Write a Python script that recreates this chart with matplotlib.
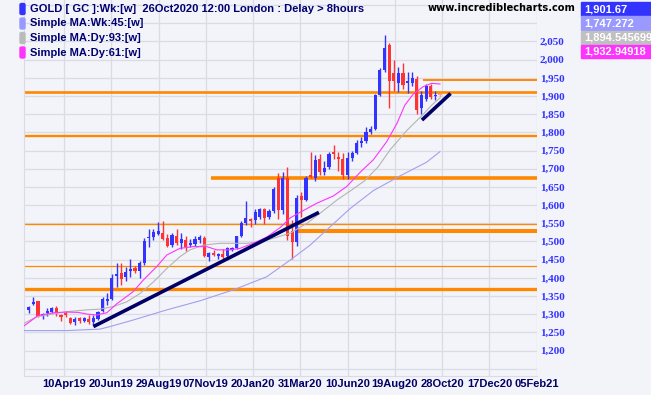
import numpy as np
import matplotlib
matplotlib.use('Agg')
import matplotlib.pyplot as plt
from matplotlib.patches import Rectangle, FancyBboxPatch

# weekly GOLD candles, Feb 2019 .. Oct 2020
opens = [1312, 1328, 1336, 1296, 1303, 1307, 1318, 1297, 1302, 1290,
         1279, 1290, 1282, 1287, 1278, 1286, 1310, 1337, 1341, 1405,
         1413, 1401, 1420, 1426, 1420, 1440, 1509, 1513, 1520, 1522,
         1509, 1490, 1516, 1497, 1504, 1490, 1493, 1505, 1510, 1456,
         1468, 1459, 1465, 1460, 1477, 1481, 1515, 1550, 1561, 1560,
         1568, 1588, 1568, 1584, 1675, 1587, 1674, 1530, 1499, 1625,
         1614, 1684, 1674, 1726, 1692, 1704, 1747, 1733, 1727, 1683,
         1729, 1743, 1770, 1775, 1800, 1809, 1903, 1972, 2040, 1962,
         1935, 1962, 1935, 1935, 1946, 1866, 1892, 1928, 1899, 1903]
highs = [1323, 1347, 1337, 1303, 1316, 1320, 1322, 1300, 1310, 1293,
         1291, 1291, 1291, 1297, 1297, 1310, 1347, 1359, 1410, 1440,
         1440, 1430, 1451, 1433, 1446, 1509, 1534, 1534, 1553, 1556,
         1520, 1523, 1535, 1523, 1516, 1506, 1516, 1518, 1515, 1472,
         1476, 1468, 1478, 1484, 1486, 1515, 1555, 1610, 1565, 1590,
         1592, 1592, 1588, 1650, 1689, 1692, 1704, 1560, 1628, 1637,
         1680, 1745, 1738, 1741, 1720, 1747, 1765, 1745, 1744, 1745,
         1750, 1779, 1788, 1814, 1818, 1905, 1978, 2068, 2045, 2000,
         1980, 1990, 1965, 1965, 1955, 1915, 1932, 1932, 1915, 1905]
lows = [1304, 1324, 1292, 1287, 1296, 1302, 1294, 1281, 1293, 1273,
        1270, 1277, 1279, 1274, 1270, 1283, 1305, 1325, 1340, 1376,
        1380, 1390, 1401, 1412, 1400, 1435, 1484, 1504, 1518, 1503,
        1486, 1486, 1490, 1480, 1475, 1484, 1488, 1496, 1456, 1446,
        1460, 1452, 1450, 1457, 1474, 1479, 1512, 1546, 1539, 1548,
        1562, 1548, 1562, 1578, 1563, 1576, 1504, 1451, 1488, 1568,
        1610, 1675, 1665, 1683, 1683, 1700, 1726, 1695, 1671, 1671,
        1720, 1740, 1760, 1770, 1795, 1806, 1900, 1965, 1866, 1915,
        1910, 1918, 1908, 1928, 1850, 1851, 1885, 1892, 1890, 1898]
closes = [1321, 1334, 1296, 1301, 1309, 1316, 1301, 1293, 1297, 1277,
          1288, 1282, 1289, 1278, 1289, 1307, 1341, 1341, 1399, 1411,
          1397, 1417, 1424, 1419, 1440, 1500, 1513, 1527, 1530, 1506,
          1488, 1518, 1497, 1506, 1486, 1495, 1506, 1513, 1460, 1468,
          1463, 1465, 1458, 1481, 1483, 1515, 1550, 1564, 1555, 1580,
          1588, 1565, 1584, 1643, 1587, 1674, 1516, 1499, 1620, 1615,
          1674, 1678, 1724, 1692, 1701, 1741, 1741, 1726, 1683, 1729,
          1743, 1770, 1777, 1800, 1808, 1903, 1972, 2031, 1940, 1940,
          1962, 1930, 1940, 1950, 1862, 1903, 1928, 1898, 1903, 1901.67]

# moving averages (bar index, value)
ma61_x = [-1, 2, 5.3, 8.2, 10.7, 12.8, 14.7, 16.9, 19, 22.6, 24.8, 27.7, 29.9,
          32.7, 35.6, 38.5, 40.7, 43.6, 45.7, 48.6, 51.5, 54.4, 56.6, 58.7,
          62.3, 65.9, 68.8, 71.7, 74.6, 77.5, 79.7, 81.4, 83.2, 85.4, 87.2, 89]
ma61_y = [1268, 1296, 1304, 1306, 1305, 1300, 1298, 1304, 1328, 1362, 1394, 1431, 1463,
          1481, 1486, 1486, 1477, 1477, 1481, 1495, 1512, 1538, 1565, 1580,
          1605, 1625, 1651, 1690, 1725, 1775, 1825, 1875, 1905, 1926, 1935, 1933]
ma93_x = [-1, 1.7, 8.2, 12.6, 15.4, 18.3, 21.2, 24.1, 27, 29.9, 32.7, 34.9, 37.8,
          41.4, 44.3, 47.2, 50.1, 53, 56.6, 60.2, 63.8, 66.8, 69.7, 72.7, 75.6,
          78.2, 81.8, 85.4, 87.2, 89]
ma93_y = [1275, 1293, 1307, 1312, 1314, 1321, 1334, 1357, 1389, 1426, 1458, 1477, 1490,
          1495, 1495, 1495, 1499, 1509, 1523, 1550, 1585, 1615, 1640, 1667, 1705,
          1752, 1805, 1850, 1875, 1894.5]
ma45_x = [-1, 8.2, 15.4, 17.6, 22.6, 29.9, 37.1, 44.3, 51.5, 56.6, 60.9, 65.2,
          69.5, 74.6, 80.3, 86.1, 89]
ma45_y = [1255, 1255, 1259, 1266, 1284, 1312, 1337, 1367, 1403, 1449, 1490, 1540,
          1590, 1640, 1680, 1718, 1747]

# support / resistance lines: price, start bar (None = left edge), width
hl_price = [1944, 1911, 1790, 1674, 1548, 1530, 1433, 1370]
hl_start = [85.4, None, None, 39.5, None, 58.1, None, None]
hl_width = [1.4, 1.9, 1.7, 2.6, 0.95, 2.9, 0.9, 2.4]

# trend lines
tl1_x, tl1_y = [14.0, 62.8], [1266, 1580]
tl2_x, tl2_y = [85.1, 91.3], [1834, 1907]

date_labels = ['10Apr19', '20Jun19', '29Aug19', '07Nov19', '20Jan20', '31Mar20',
               '10Jun20', '19Aug20', '28Oct20', '17Dec20', '05Feb21']

legend_labels = ['GOLD [ GC ]:Wk:[w]  26Oct2020 12:00 London : Delay > 8hours',
                 'Simple MA:Wk:45:[w]', 'Simple MA:Dy:93:[w]', 'Simple MA:Dy:61:[w]']
last_values = ['1,901.67', '1,747.272', '1,894.545699', '1,932.94918']

W, H = 651, 395
bg = '#f3f4f9'
grid_c = '#dadbe5'
blue = '#3333ff'
red = '#ff3333'
orange = '#ff8800'
navy = '#000066'
legend_cols = ['#3333ff', '#9999ff', '#bbbbbb', '#ff33ff']

fig = plt.figure(figsize=(W / 100, H / 100), dpi=100)
fig.patch.set_facecolor(bg)
ax = fig.add_axes([24 / W, 1 - 376 / H, 513 / W, 376 / H])
ax.set_facecolor(bg)
ax.set_xlim(-1.02, 110.0)
ax.set_ylim(1130.1, 2164.1)

# grid
yt = list(range(1150, 2151, 50))
ax.set_yticks(yt)
ax.set_yticklabels(['{:,}'.format(v) if 1200 <= v <= 2050 else '' for v in yt])
tick_pos = [7.64 + 10.23 * j for j in range(len(date_labels))]
ax.set_xticks(tick_pos)
ax.set_xticklabels(date_labels)
ax.grid(True, color=grid_c, lw=0.9)
ax.set_axisbelow(True)
for s in ['top', 'right']:
    ax.spines[s].set_visible(False)
for s in ['left', 'bottom']:
    ax.spines[s].set_color(grid_c)

# orange lines
xl, xr = ax.get_xlim()
for p, st, w in zip(hl_price, hl_start, hl_width):
    ax.hlines(p, xl if st is None else st, xr, color=orange, lw=w, zorder=2)

# candles
n = len(opens)
xs = np.arange(n)
for i in range(n):
    o, h, l, c = opens[i], highs[i], lows[i], closes[i]
    col = blue if c >= o else red
    if i == n - 1:
        col = '#ff9999'
    ax.vlines(xs[i], l, h, color=col, lw=1.0, zorder=3)
    bot = min(o, c)
    ht = max(abs(c - o), 3)
    ax.bar(xs[i], ht, bottom=bot, width=0.68, color=col, zorder=3, linewidth=0)

# moving averages
ax.plot(ma45_x, ma45_y, color='#a0a0f0', lw=0.8, zorder=4)
ax.plot(ma93_x, ma93_y, color='#b4b4b4', lw=0.8, zorder=4)
ax.plot(ma61_x, ma61_y, color='#ff33ff', lw=0.8, zorder=4)

# trend lines
ax.plot(tl1_x, tl1_y, color=navy, lw=2.6, solid_capstyle='butt', zorder=5)
ax.plot(tl2_x, tl2_y, color=navy, lw=2.6, solid_capstyle='butt', zorder=5)

ax.yaxis.tick_right()
ax.tick_params(axis='y', length=0, pad=2, labelcolor=blue, labelsize=8)
for lab in ax.get_yticklabels():
    lab.set_fontfamily('Liberation Serif')
    lab.set_fontweight('bold')
ax.tick_params(axis='x', length=0, pad=2, labelcolor=navy, labelsize=8)
for lab in ax.get_xticklabels():
    lab.set_fontfamily(['Liberation Sans Narrow', 'Liberation Sans'])
    lab.set_fontweight('bold')

# legend in top left
leg_y = [9, 23.5, 38, 52.5]
for lab, col, yy in zip(legend_labels, legend_cols, leg_y):
    fig.patches.append(FancyBboxPatch((20 / W, 1 - (yy + 5.5) / H), 5 / W, 11 / H,
                                      boxstyle='round,pad=0,rounding_size=0.003',
                                      transform=fig.transFigure, color=col, zorder=6))
    fig.text(30 / W, 1 - yy / H, lab, color='#000070', fontsize=8,
             fontweight='bold', family='Liberation Sans', va='center', ha='left')

fig.text(428 / W, 1 - 8 / H, 'www.incrediblecharts.com', color='black', fontsize=7.1,
         fontweight='bold', family='DejaVu Sans', va='center', ha='left')

# last value boxes
box_top = [2, 16, 30.5, 45]
box_h = [14, 14, 14, 13]
for val, col, bt, bh in zip(last_values, legend_cols, box_top, box_h):
    bcol = col if col != '#bbbbbb' else '#c0c0c0'
    fig.patches.append(Rectangle((581 / W, 1 - (bt + bh) / H), 70 / W, bh / H,
                                 transform=fig.transFigure, color=bcol, zorder=6))
    fig.text(584 / W, 1 - (bt + bh / 2) / H, val, color='white', fontsize=8,
             fontweight='bold', family='Liberation Sans', va='center', ha='left',
             zorder=7)

fig.savefig('out.png', dpi=100, facecolor=bg)
